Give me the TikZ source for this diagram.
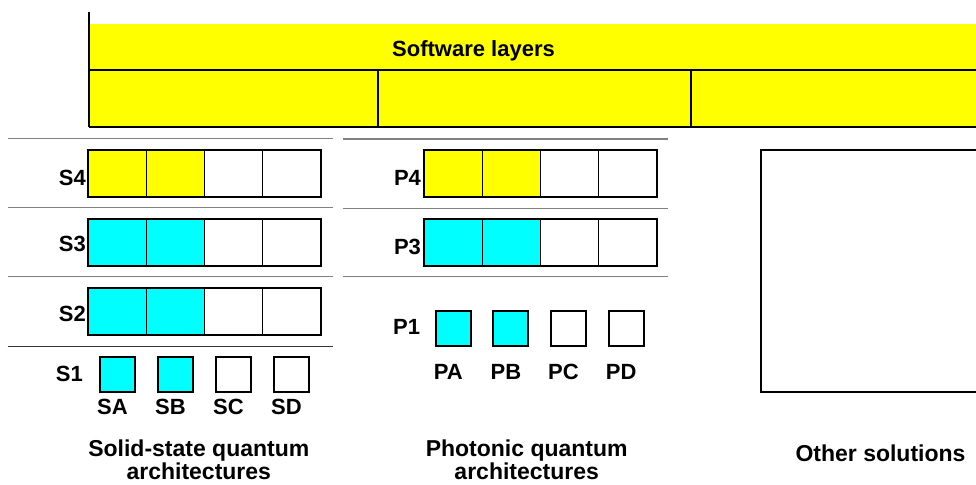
\documentclass[tikz,border=0pt]{standalone}
\usepackage{fontspec}
\setmainfont{Liberation Sans}
\usetikzlibrary{positioning}

\definecolor{layeryellow}{RGB}{255,255,0}
\definecolor{qcyan}{RGB}{0,255,255}
\definecolor{rulegray}{RGB}{128,128,128}

\tikzset{
  cell/.style={draw, line width=1.3pt, minimum width=58.1pt, minimum height=46.7pt, inner sep=0pt, outer sep=0pt},
  chip/.style={draw, line width=2pt, minimum size=35pt, inner sep=0pt, outer sep=0pt},
  rowframe/.style={draw, line width=2pt},
  lbl/.style={font=\bfseries\fontsize{22}{22}\selectfont, inner sep=0pt, outer sep=0pt},
  caption/.style={font=\bfseries\fontsize{23}{19}\selectfont, inner sep=0pt, align=center, anchor=north},
  sepline/.style={draw=rulegray, line width=1.5pt}
}

\begin{document}
\begin{tikzpicture}[x=1pt, y=-1pt]
  \useasboundingbox (0,0) rectangle (976,484);

  % software band
  \fill[layeryellow] (89,24) rectangle (976,127);
  \draw[line width=1.3pt] (89,70) -- (976,70);
  \draw[line width=2pt] (89,127) -- (976,127);
  \draw[line width=2pt] (89,11.7) -- (89,127);
  \draw[line width=2pt] (378.3,70) -- (378.3,127);
  \draw[line width=2pt] (691,70) -- (691,127);
  \node[lbl, anchor=base] (sw) at (473.5,56.7) {Software layers};

  % separators
  \draw[sepline] (7.5,138.3) -- (332.5,138.3);
  \draw[sepline] (7.5,207.7) -- (332.5,207.7);
  \draw[sepline] (7.5,276.7) -- (332.5,276.7);
  \draw[draw=black!80, line width=1pt] (7.5,346) -- (332.5,346);
  \draw[sepline] (343.3,139) -- (668.3,139);
  \draw[sepline] (343.3,208.3) -- (668.3,208.3);
  \draw[sepline] (343.3,276.7) -- (668.3,276.7);

  % solid-state stack
  \node[cell, fill=layeryellow] (s4a) at (117.4,173.3) {};
  \node[cell, fill=layeryellow, right=0pt of s4a] (s4b) {};
  \node[cell, right=0pt of s4b] (s4c) {};
  \node[cell, right=0pt of s4c] (s4d) {};
  \draw[rowframe] (s4a.north west) rectangle (s4d.south east);
  \node[lbl, left=2.5pt of s4a, yshift=-5pt] (s4) {S4};

  \node[cell, fill=qcyan, below=22.3pt of s4a] (s3a) {};
  \node[cell, fill=qcyan, right=0pt of s3a] (s3b) {};
  \node[cell, right=0pt of s3b] (s3c) {};
  \node[cell, right=0pt of s3c] (s3d) {};
  \draw[rowframe] (s3a.north west) rectangle (s3d.south east);
  \node[lbl, left=2.5pt of s3a, yshift=-2pt] (s3) {S3};

  \node[cell, fill=qcyan, below=22.6pt of s3a] (s2a) {};
  \node[cell, fill=qcyan, right=0pt of s2a] (s2b) {};
  \node[cell, right=0pt of s2b] (s2c) {};
  \node[cell, right=0pt of s2c] (s2d) {};
  \draw[rowframe] (s2a.north west) rectangle (s2d.south east);
  \node[lbl, left=2.5pt of s2a, yshift=-2.5pt] (s2) {S2};

  \node[chip, fill=qcyan, below=22pt of s2a] (sa) {};
  \node[chip, fill=qcyan, right=23pt of sa] (sb) {};
  \node[chip, right=23pt of sb] (sc) {};
  \node[chip, right=23pt of sc] (sd) {};
  \node[lbl, left=17pt of sa, yshift=1pt] (s1) {S1};
  \node[lbl, below=7.3pt of sa, xshift=-5pt] (sal) {SA};
  \node[lbl, below=7.3pt of sb, xshift=-5pt] (sbl) {SB};
  \node[lbl, below=7.3pt of sc, xshift=-5pt] (scl) {SC};
  \node[lbl, below=7.3pt of sd, xshift=-5pt] (sdl) {SD};

  % photonic stack
  \node[cell, fill=layeryellow] (p4a) at (453.3,173.3) {};
  \node[cell, fill=layeryellow, right=0pt of p4a] (p4b) {};
  \node[cell, right=0pt of p4b] (p4c) {};
  \node[cell, right=0pt of p4c] (p4d) {};
  \draw[rowframe] (p4a.north west) rectangle (p4d.south east);
  \node[lbl, left=3.3pt of p4a, yshift=-4.2pt] (p4) {P4};

  \node[cell, fill=qcyan, below=22.3pt of p4a] (p3a) {};
  \node[cell, fill=qcyan, right=0pt of p3a] (p3b) {};
  \node[cell, right=0pt of p3b] (p3c) {};
  \node[cell, right=0pt of p3c] (p3d) {};
  \draw[rowframe] (p3a.north west) rectangle (p3d.south east);
  \node[lbl, left=3.3pt of p3a, yshift=-4.4pt] (p3) {P3};

  \node[chip, fill=qcyan, below=45.3pt of p3a] (pa) {};
  \node[chip, fill=qcyan, right=22.6pt of pa] (pb) {};
  \node[chip, right=22.6pt of pb] (pc) {};
  \node[chip, right=22.6pt of pc] (pd) {};
  \node[lbl, left=15.7pt of pa, yshift=1.5pt] (p1) {P1};
  \node[lbl, below=18pt of pa, xshift=-5pt] (pal) {PA};
  \node[lbl, below=18pt of pb, xshift=-5pt] (pbl) {PB};
  \node[lbl, below=18pt of pc, xshift=-5pt] (pcl) {PC};
  \node[lbl, below=18pt of pd, xshift=-5pt] (pdl) {PD};

  % other solutions
  \draw[line width=2pt] (976,150) -- (760.7,150) -- (760.7,392.3) -- (976,392.3);

  % captions
  \node[caption] (solid) at (198.8,440) {Solid-state quantum\\architectures};
  \node[caption] (phot) at (526.7,440) {Photonic quantum\\architectures};
  \node[caption] (other) at (880.5,444.8) {Other solutions};
\end{tikzpicture}
\end{document}
